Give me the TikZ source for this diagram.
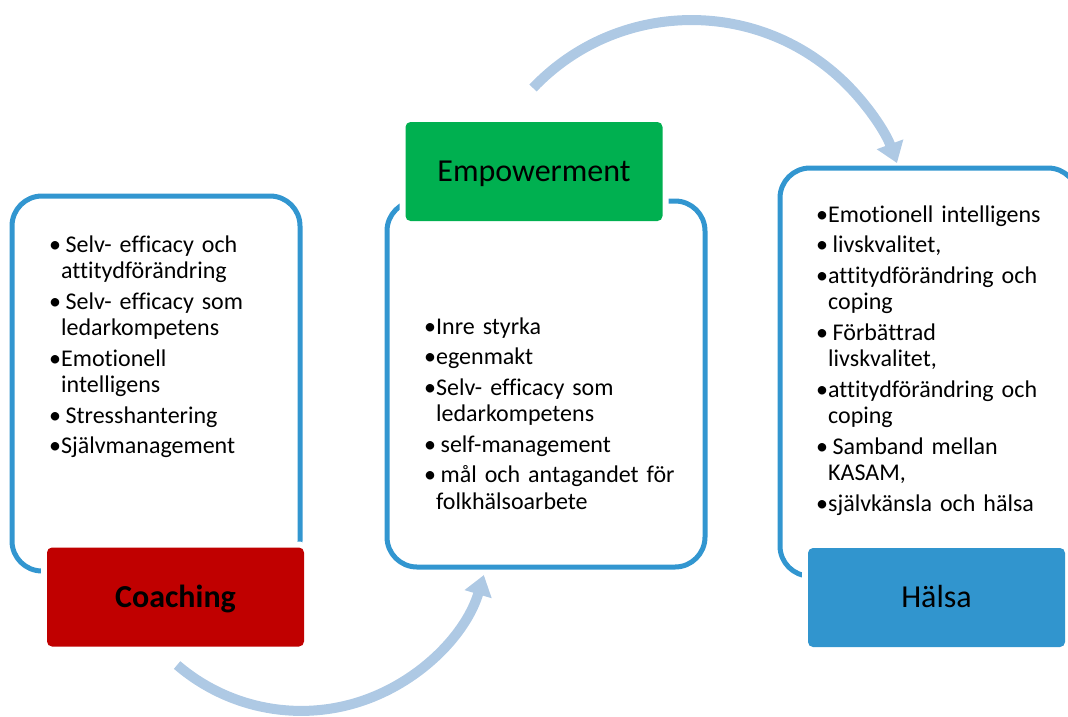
\documentclass[tikz,border=0pt]{standalone}
\usepackage{fontspec}
\setmainfont{Carlito}[Ligatures=CommonOff]
\usetikzlibrary{arrows.meta}

\definecolor{ringblue}{RGB}{50,150,208}
\definecolor{coachred}{RGB}{192,0,0}
\definecolor{empgreen}{RGB}{0,176,80}
\definecolor{halsablue}{RGB}{49,149,206}
\definecolor{flowblue}{RGB}{174,201,228}

\newlength{\bulw}
\newcommand{\listfont}{\fontsize{24}{26.5}\selectfont\setlength{\parskip}{4pt}\settowidth{\bulw}{•}}
\newcommand{\bulhang}{\hangindent=\bulw\hangafter=1\relax}
\newcommand{\bsp}{\hspace{4.5pt}}

\begin{document}
\begin{tikzpicture}[x=1pt,y=1pt,
    ring/.style={draw=ringblue,line width=5pt,rounded corners=30pt,inner sep=0pt},
    listtext/.style={anchor=base west,inner sep=0pt,text width=270pt,align=left,font=\listfont},
    labelbox/.style={rounded corners=5pt,minimum width=257pt,minimum height=99pt,inner sep=0pt,
        text height=20.6pt,text depth=0pt,
        font=\fontsize{32}{36}\selectfont,preaction={draw=white,line width=12pt}},
    flowarrow/.style={draw=flowblue,line width=10pt,-{Triangle[length=20pt,width=27pt]}}]
    \useasboundingbox (0,0) rectangle (1068,-716);
    \clip (0,0) rectangle (1068,-716);
    % outlines
    \node[ring,minimum width=288pt,minimum height=375pt] (coachring) at (156,-383.5) {};
    \node[ring,minimum width=318pt,minimum height=366pt] (empring) at (546,-384) {};
    \node[ring,minimum width=298pt,minimum height=408pt] (halsaring) at (929,-372) {};
    % bullet lists
    \node[listtext] (coachlist) at (49,-252) {%
        \bulhang •\bsp Selv- efficacy och\newline attitydförändring\par
        \bulhang •\bsp Selv- efficacy som\newline ledarkompetens\par
        \bulhang •Emotionell\newline intelligens\par
        \bulhang •\bsp Stresshantering\par
        \bulhang •Självmanagement\par};
    \node[listtext] (emplist) at (424,-334) {%
        \bulhang •Inre styrka\par
        \bulhang •egenmakt\par
        \bulhang •Selv- efficacy som\newline ledarkompetens\par
        \bulhang •\bsp self-management\par
        \bulhang •\bsp mål och antagandet för\newline folkhälsoarbete\par};
    \node[listtext] (halsalist) at (816,-222) {%
        \bulhang •Emotionell intelligens\par
        \bulhang •\bsp livskvalitet,\par
        \bulhang •attitydförändring och\newline coping\par
        \bulhang •\bsp Förbättrad\newline livskvalitet,\par
        \bulhang •attitydförändring och\newline coping\par
        \bulhang •\bsp Samband mellan\newline KASAM,\par
        \bulhang •självkänsla och hälsa\par};
    % labels
    \node[labelbox,fill=coachred] (coaching) at (175.5,-597) {\bfseries Coaching};
    \node[labelbox,fill=empgreen] (empowerment) at (534,-171.5) {Empowerment};
    \node[labelbox,fill=halsablue] (halsa) at (936.5,-597.5) {Hälsa};
    % flow arrows
    \coordinate (botstart) at (177.1,-665);
    \coordinate (topstart) at (533,-88);
    \draw[flowarrow] (botstart) arc[start angle=229.4,end angle=343.3,radius=190.7];
    \draw[flowarrow] (topstart) arc[start angle=136.4,end angle=20.3,radius=219];
\end{tikzpicture}
\end{document}
